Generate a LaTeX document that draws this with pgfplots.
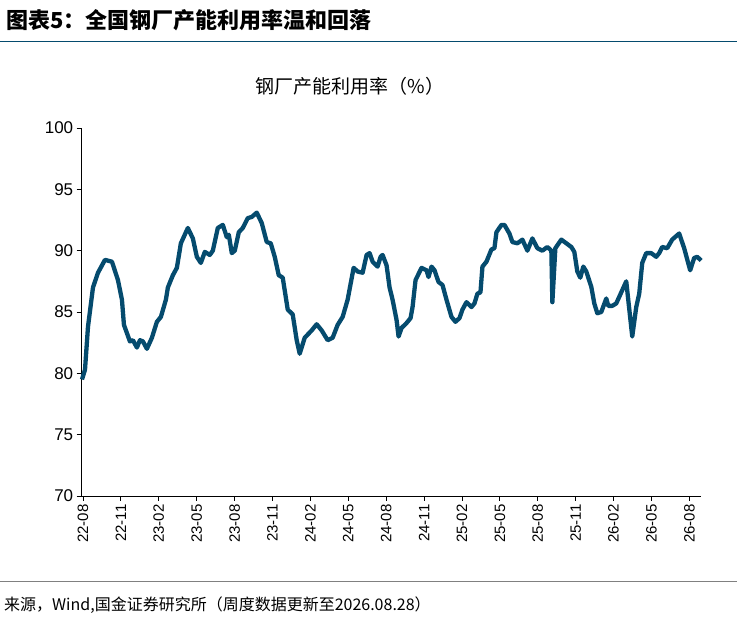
\documentclass[border=0pt]{standalone}
\usepackage{pgfplots}
\pgfplotsset{compat=1.18}
\usepackage{pgfplotstable}
\usepackage{fontspec}
\setmainfont{Liberation Sans}
\newfontfamily\cjk{Noto Sans CJK SC}
\definecolor{ln}{RGB}{5,75,110}
\pgfplotstableread{
x y
82 79.5
85 80.3
88 83.8
93 87.0
98 88.2
105 89.25
112 89.1
118 87.6
122 86.0
124 83.95
130 82.6
133 82.7
137 82.1
140 82.7
143 82.6
147 82.0
152 82.9
157 84.2
161 84.6
166 86.0
168 87.0
173 88.0
177 88.6
181 90.6
188 91.85
193 91.0
197 89.5
201 89.0
205 89.9
210 89.65
213 90.0
218 91.85
223 92.1
227 91.1
229 91.3
232 89.8
235 90.0
239 91.5
243 91.85
248 92.65
252 92.75
257 93.1
262 92.25
267 90.7
271 90.6
275 89.5
279 88.0
283 87.8
288 85.2
293 84.8
297 82.7
300 81.6
305 82.9
312 83.5
317 84.0
322 83.5
328 82.7
333 82.9
338 83.95
343 84.6
348 86.0
354 88.6
358 88.3
363 88.2
367 89.65
370 89.8
373 89.1
378 88.7
381 89.5
383 89.65
387 88.8
390 87.0
393 86.0
397 84.35
399 83.0
402 83.7
407 84.1
411 84.5
413 85.4
416 87.6
422 88.6
427 88.4
429 87.85
432 88.7
435 88.4
439 87.45
443 87.2
447 86.0
452 84.6
456 84.2
460 84.5
463 85.2
467 85.8
472 85.4
475 85.7
478 86.5
481 86.6
483 88.7
487 89.1
492 90.1
495 90.2
497 91.5
502 92.1
505 92.1
510 91.4
513 90.7
518 90.6
523 90.9
528 90.0
533 91.0
538 90.2
543 90.0
548 90.3
552 90.0
553 85.8
556 90.2
562 90.9
567 90.6
572 90.3
575 89.9
578 88.3
581 87.8
584 88.7
587 88.3
592 87.05
595 85.7
598 84.9
602 85.0
607 86.1
609 85.5
613 85.5
617 85.7
622 86.6
627 87.5
629 86.0
633 83.0
637 85.4
640 86.5
643 89.0
647 89.8
652 89.8
657 89.5
660 89.8
663 90.3
668 90.2
673 90.9
680 91.4
685 90.2
691 88.4
695 89.4
698 89.5
702 89.2
}\data
\begin{document}
\begin{tikzpicture}[x=1pt,y=1pt]
\path[use as bounding box] (0,0) rectangle (737,618);
\node[anchor=west,inner sep=0pt] at (6,598) {\cjk\fontsize{22}{24}\selectfont\bfseries\itshape 图表5：全国钢厂产能利用率温和回落};
\draw[line width=1pt,color=ln] (0,576) -- (737,576);
\node at (350,532) {\cjk\fontsize{19}{21}\selectfont 钢厂产能利用率（\%）};
\draw[line width=0.6pt,color=gray] (0,37) -- (737,37);
\node[anchor=west,inner sep=0pt] at (4,13) {\cjk\fontsize{16}{18}\selectfont 来源，Wind,国金证券研究所（周度数据更新至2026.08.28）};
\begin{axis}[at={(83pt,122pt)},anchor=origin,scale only axis,
 width=619pt,height=368pt,
 xmin=-0.1,xmax=48.9,ymin=70,ymax=100,
 axis x line*=bottom, axis y line*=left,
 xtick={0,3,...,48},
 xticklabels={22-08,22-11,23-02,23-05,23-08,23-11,24-02,24-05,24-08,24-11,25-02,25-05,25-08,25-11,26-02,26-05,26-08},
 x tick label style={rotate=90,anchor=east,font=\fontsize{15}{17}\selectfont},
 ytick={70,75,...,100},
 y tick label style={font=\fontsize{17}{19}\selectfont},
 /pgf/number format/assume math mode=true,
 tick align=outside, major tick length=5pt,
 tick style={black,line width=0.8pt}, axis line style={black,line width=0.8pt,-},
 clip=false]
\addplot[ln,line width=4.3pt,line join=round,no marks] table[x expr={(\thisrow{x}-83)/12.65},y=y]{\data};
\end{axis}
\end{tikzpicture}
\end{document}
